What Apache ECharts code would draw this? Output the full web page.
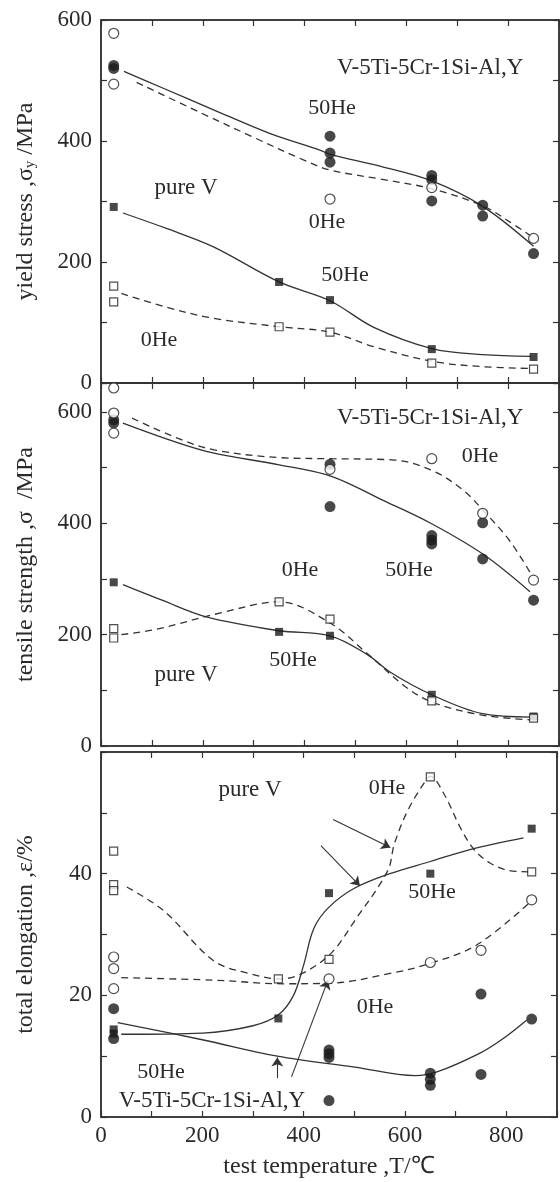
<!DOCTYPE html>
<html>
<head>
<meta charset="utf-8">
<script src="https://cdn.jsdelivr.net/npm/echarts@6/dist/echarts.min.js"></script>
<style>
html,body{margin:0;padding:0;background:#fff;}
#c{width:560px;height:1182px;}
</style>
</head>
<body>
<div id="c"></div>
<script>
// ---------- DATA (temperature °C, value) ----------
// Panel 1: yield stress (MPa)
const ysAlloy50 = [[25,520],[25,525],[450,408],[450,380],[450,365],[650,343],[650,336],[650,301],[750,294],[750,276],[850,214]];
const ysAlloy0  = [[25,578],[25,494],[450,304],[650,323],[850,239]];
const ysPureV50 = [[25,291],[350,167],[450,137],[650,56],[850,43]];
const ysPureV0  = [[25,160],[25,134],[350,93],[450,84],[650,33],[850,23]];
const ysAlloy50Fit = [[45,515],[120,488],[220,452],[330,413],[430,385],[450,378],[550,358],[650,334],[750,292],[850,226]];
const ysAlloy0Fit  = [[70,497],[200,445],[300,406],[400,368],[450,352],[550,337],[650,321],[750,293],[800,268],[850,240]];
const ysPureV50Fit = [[43,281],[130,255],[221,225],[350,167],[450,136],[536,92],[650,57],[750,47],[845,44]];
const ysPureV0Fit  = [[40,148],[130,125],[221,107],[350,93],[450,84],[536,60],[650,36],[750,27],[845,24]];

// Panel 2: tensile strength (MPa)
const tsAlloy50 = [[25,586],[25,580],[450,506],[450,430],[650,378],[650,370],[650,363],[750,401],[750,336],[850,262]];
const tsAlloy0  = [[25,643],[25,598],[25,562],[450,497],[650,516],[750,418],[850,298]];
const tsPureV50 = [[25,294],[350,205],[450,198],[650,92],[850,53]];
const tsPureV0  = [[25,211],[25,194],[350,259],[450,228],[650,81],[850,50]];
const tsAlloy50Fit = [[43,580],[150,545],[222,526],[350,505],[454,484],[550,443],[648,400],[753,343],[843,277]];
const tsAlloy0Fit  = [[61,589],[150,553],[222,532],[350,518],[454,516],[571,514],[648,496],[711,460],[753,421],[802,370],[843,312]];
const tsPureV50Fit = [[43,290],[120,262],[207,232],[350,207],[450,198],[522,165],[571,131],[650,92],[750,58],[845,52]];
const tsPureV0Fit  = [[40,200],[110,210],[235,239],[350,259],[450,221],[522,167],[599,106],[650,79],[746,56],[843,47]];

// Panel 3: total elongation (%)
const elAlloy50 = [[25,17.8],[25,12.9],[450,11.0],[450,10.4],[450,9.8],[450,2.7],[650,7.2],[650,6.2],[650,5.2],[750,20.2],[750,7.0],[850,16.1]];
const elAlloy0  = [[25,26.3],[25,24.4],[25,21.1],[450,22.7],[650,25.4],[750,27.4],[850,35.7]];
const elPureV50 = [[25,14.4],[25,13.7],[350,16.2],[450,36.8],[650,40.0],[850,47.4]];
const elPureV0  = [[25,43.7],[25,38.2],[25,37.2],[350,22.7],[450,25.9],[650,55.9],[850,40.3]];
const elAlloy50Fit = [[33,15.5],[200,12.7],[348,10.0],[501,8.2],[620,6.8],[663,7.4],[748,10.5],[794,12.9],[840,15.9]];
const elAlloy0Fit  = [[40,22.9],[222,22.5],[361,21.9],[454,22.0],[571,23.6],[648,25.2],[740,28.2],[843,35.0]];
const elPureV50Fit = [[40,13.6],[200,13.8],[300,15.0],[350,16.8],[380,20.0],[400,25.0],[420,31.0],[450,34.5],[500,37.6],[570,40.0],[650,42.0],[730,44.0],[834,45.9]];
const elPureV0Fit  = [[51,37.8],[124,33.9],[222,25.7],[292,23.6],[354,22.7],[397,23.6],[454,26.9],[501,32.3],[566,40.5],[579,44.9],[605,50.3],[640,55.2],[650,56.0],[677,53.1],[709,47.6],[735,44.1],[767,41.8],[806,40.5],[845,40.3]];
// Arrows in panel 3 (data coordinates: from -> to)
const elArrows = [[[458,48.9],[571,44.3]],[[434,44.6],[511,38.0]],[[348,6.4],[348,9.8]],[[376,6.6],[448,22.5]]];

// Axis tick labels
const xTickLabels = [0,200,400,600,800];
const ysTickLabels = [0,200,400,600];
const tsTickLabels = [0,200,400,600];
const elTickLabels = [0,20,40];

// ---------- LAYOUT ----------
const FONT = '"Liberation Serif","Times New Roman",serif';
const INK = '#2a2a2a';
const annotations = [
  {t:'V-5Ti-5Cr-1Si-Al,Y', x:337, y:68, a:'left', s:23},
  {t:'50He', x:332, y:108}, {t:'pure V', x:186, y:188, s:23}, {t:'0He', x:327, y:222},
  {t:'50He', x:345, y:275}, {t:'0He', x:159, y:340},
  {t:'V-5Ti-5Cr-1Si-Al,Y', x:337, y:418, a:'left', s:23},
  {t:'0He', x:480, y:456}, {t:'0He', x:300, y:570}, {t:'50He', x:409, y:570},
  {t:'50He', x:293, y:660}, {t:'pure V', x:186, y:675, s:23},
  {t:'pure V', x:250, y:790, s:23}, {t:'0He', x:387, y:788}, {t:'50He', x:432, y:892},
  {t:'0He', x:375, y:1007}, {t:'50He', x:161, y:1072},
  {t:'V-5Ti-5Cr-1Si-Al,Y', x:212, y:1101, s:23}
];

const grids = [
  {left:101, width:458, top:20, height:363},
  {left:101, width:458, top:383, height:363},
  {left:101, width:458, top:752, height:365}
];

const lineStyleAxis = {color:'#333', width:1.5};
function xAxis(g, pos, show, name) {
  return {
    type:'value', gridIndex:g, position:pos, min:0, max:900, interval:100,
    axisLine:{show:true, onZero:false, lineStyle:lineStyleAxis},
    axisTick:{show:true, inside:true, length:6, lineStyle:{color:'#333', width:1.2}},
    axisLabel:{show:show, margin:7, color:INK, fontFamily:FONT, fontSize:23,
      formatter:v => xTickLabels.includes(v) ? String(v) : ''},
    splitLine:{show:false},
    name: name || '', nameLocation:'middle', nameGap:38,
    nameTextStyle:{color:INK, fontFamily:FONT, fontSize:24}
  };
}
function yAxis(g, pos, show, max, interval, labels, name, rich) {
  return {
    type:'value', gridIndex:g, position:pos, min:0, max:max, interval:interval,
    axisLine:{show:true, onZero:false, lineStyle:lineStyleAxis},
    axisTick:{show:true, inside:true, length:6, lineStyle:{color:'#333', width:1.2}},
    axisLabel:{show:show, margin:9, color:INK, fontFamily:FONT, fontSize:23,
      formatter:v => labels.includes(v) ? String(v) : ''},
    splitLine:{show:false},
    name: name || '', nameLocation:'middle', nameGap:63,
    nameTextStyle:{color:INK, fontFamily:FONT, fontSize:24, rich: rich || {}}
  };
}
const subRich = {s:{fontFamily:FONT, fontSize:15, color:INK, verticalAlign:'bottom', padding:[10,0,0,0]}};

const xAxes = [
  xAxis(0,'bottom',false), xAxis(0,'top',false),
  xAxis(1,'bottom',false), xAxis(1,'top',false),
  xAxis(2,'bottom',true,'test temperature ,T/℃'), xAxis(2,'top',false)
];
const yAxes = [
  yAxis(0,'left',true,600,100,ysTickLabels,'yield stress ,σ{s|y} /MPa',subRich), yAxis(0,'right',false,600,100,ysTickLabels),
  yAxis(1,'left',true,652,100,tsTickLabels,'tensile strength ,σ  /MPa'), yAxis(1,'right',false,652,100,tsTickLabels),
  yAxis(2,'left',true,60,10,elTickLabels,'total elongation ,ε/%'), yAxis(2,'right',false,60,10,elTickLabels)
];

function pts(data, g, kind) {
  const filled = kind === 'fc' || kind === 'fs';
  const square = kind === 'fs' || kind === 'hs';
  return {
    type:'scatter', xAxisIndex:g*2, yAxisIndex:g*2, data:data, z:5,
    symbol: square ? 'rect' : 'circle',
    symbolSize: square ? 8 : (filled ? 11 : 10),
    itemStyle: filled ? {color:'#1a1a1a'} : {color:'#fff', borderColor:'#222', borderWidth:1.2}
  };
}
function fit(data, g, dashed) {
  return {
    type:'line', xAxisIndex:g*2, yAxisIndex:g*2, data:data, z:3,
    showSymbol:false, symbol:'none', smooth:0.35,
    lineStyle:{color:'#333', width:1.3, type: dashed ? [7,5] : 'solid'}
  };
}

const series = [
  fit(ysAlloy50Fit,0,false), fit(ysAlloy0Fit,0,true), fit(ysPureV50Fit,0,false), fit(ysPureV0Fit,0,true),
  pts(ysAlloy50,0,'fc'), pts(ysAlloy0,0,'hc'), pts(ysPureV50,0,'fs'), pts(ysPureV0,0,'hs'),
  fit(tsAlloy50Fit,1,false), fit(tsAlloy0Fit,1,true), fit(tsPureV50Fit,1,false), fit(tsPureV0Fit,1,true),
  pts(tsAlloy50,1,'fc'), pts(tsAlloy0,1,'hc'), pts(tsPureV50,1,'fs'), pts(tsPureV0,1,'hs'),
  fit(elAlloy50Fit,2,false), fit(elAlloy0Fit,2,true), fit(elPureV50Fit,2,false), fit(elPureV0Fit,2,true),
  pts(elAlloy50,2,'fc'), pts(elAlloy0,2,'hc'), pts(elPureV50,2,'fs'), pts(elPureV0,2,'hs')
];
// arrows
series.push({
  type:'line', xAxisIndex:4, yAxisIndex:4, data:[], z:4,
  markLine:{
    silent:true, symbol:['none','arrow'], symbolSize:9, label:{show:false},
    lineStyle:{color:'#333', width:1.1, type:'solid'},
    emphasis:{disabled:true},
    data: elArrows.map(a => [{coord:a[0]}, {coord:a[1]}])
  }
});

const chart = echarts.init(document.getElementById('c'), null, {renderer:'canvas'});
chart.setOption({
  animation:false,
  backgroundColor:'#fff',
  grid: grids.map(g => Object.assign({show:true, borderColor:'#333', borderWidth:1.5, backgroundColor:'transparent'}, g)),
  xAxis: xAxes,
  yAxis: yAxes,
  series: series,
  graphic: annotations.map(a => ({
    type:'text', x:a.x, y:a.y, z:10, silent:true,
    style:{text:a.t, fill:INK, font:(a.s||22)+'px '+FONT, align:a.a||'center', verticalAlign:'middle'}
  }))
});
</script>
</body>
</html>
